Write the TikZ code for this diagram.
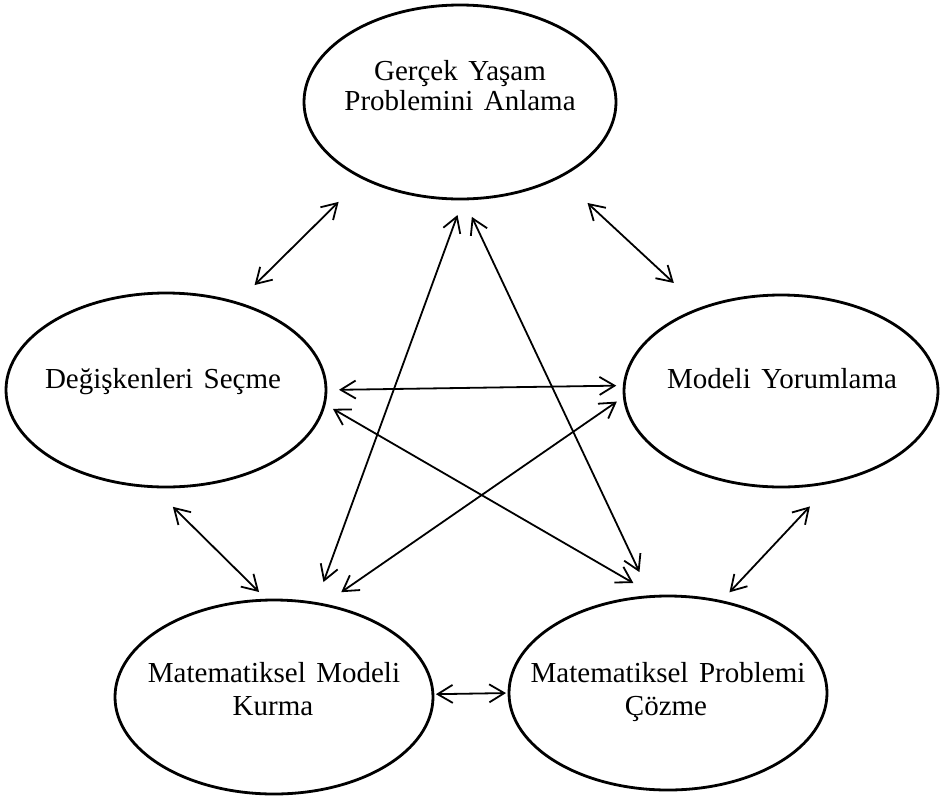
\documentclass[tikz,border=0pt]{standalone}
\usepackage{fontspec}
\setmainfont{Liberation Serif}
\usetikzlibrary{shapes.geometric,arrows.meta}
\newcommand{\mywidespace}{\spaceskip=10.5pt\relax}
\tikzset{
  ell/.style={draw, ellipse, line width=2.8pt, inner sep=0pt, outer sep=0pt,
              minimum width=316pt, minimum height=194pt},
  lbl/.style={inner sep=0pt, anchor=base,
              font={\fontsize{29}{32}\selectfont\mywidespace}},
  conn/.style={{Straight Barb[length=15pt,width=18pt]}-{Straight Barb[length=15pt,width=18pt]},
               line width=1.8pt}
}
\begin{document}
\begin{tikzpicture}[x=1pt,y=-1pt]
\useasboundingbox (0,0) rectangle (940,796);
% ellipses
\node[ell, minimum width=312pt] (T) at (460,102) {};
\node[ell, minimum width=320pt] (L) at (166,390) {};
\node[ell, minimum width=314pt, minimum height=192pt] (R) at (781,391) {};
\node[ell, minimum width=318pt] (BL) at (274,697) {};
\node[ell, minimum width=318pt] (BR) at (668,693) {};
% texts
\node[lbl] (t1) at (460,80) {Gerçek Yaşam};
\node[lbl] (t2) at (460,110) {Problemini Anlama};
\node[lbl] (l1) at (163,388) {Değişkenleri Seçme};
\node[lbl] (r1) at (782,388) {Modeli Yorumlama};
\node[lbl] (bl1) at (274,682) {Matematiksel Modeli};
\node[lbl] (bl2) at (273,715) {Kurma};
\node[lbl] (br1) at (668,682) {Matematiksel Problemi};
\node[lbl] (br2) at (666,715) {Çözme};
% connectors
\draw[conn, shorten <=25.4pt, shorten >=34.1pt] (L.51.2) -- (T.218.0);
\draw[conn, shorten <=38.5pt, shorten >=37.3pt] (T.323.0) -- (R.134.5);
\draw[conn, shorten <=13pt, shorten >=8pt] (L.0) -- (R.178.5);
\draw[conn, shorten <=9.9pt, shorten >=26.3pt] (L.355.3) -- (BR.97.2);
\draw[conn, shorten <=9pt, shorten >=22.1pt] (R.182.5) -- (BL.62.7);
\draw[conn, shorten <=17.1pt, shorten >=22.7pt] (T.272.3) -- (BL.66.3);
\draw[conn, shorten <=19.8pt, shorten >=27.1pt] (T.272.7) -- (BR.100.3);
\draw[conn, shorten <=28.7pt, shorten >=11.5pt] (L.262.2) -- (BL.94.7);
\draw[conn, shorten <=34.1pt, shorten >=12.6pt] (R.300.2) -- (BR.60.9);
\draw[conn, shorten <=3pt, shorten >=3pt] (BL.1.4) -- (BR.180);
\end{tikzpicture}
\end{document}
